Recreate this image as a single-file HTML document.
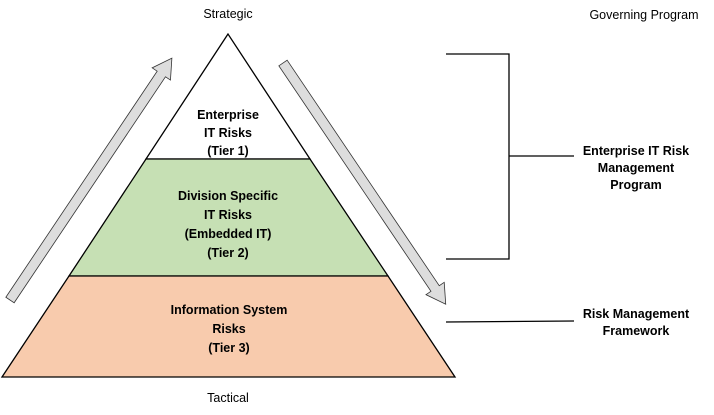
<!DOCTYPE html>
<html><head><style>body{margin:0;background:#fff}svg{display:block}text{font-family:"Liberation Sans",sans-serif;font-size:12.5px;fill:#000}</style></head><body>
<svg width="714" height="415" viewBox="0 0 714 415">
<polygon points="228,34 146,159 310,159" fill="#fff" stroke="#000" stroke-width="1.3"/>
<polygon points="146,159 310,159 388,276 69,276" fill="#c6e0b4" stroke="#000" stroke-width="1.3"/>
<polygon points="69,276 388,276 455,377 2,377" fill="#f8cbad" stroke="#000" stroke-width="1.3"/>
<g transform="translate(10,300) rotate(-56.2)">
<polygon points="0,-5 272,-5 272,-11 291,0 272,11 272,5 0,5" fill="#ddd" stroke="#333" stroke-width="0.8"/>
</g>
<g transform="translate(283,63) rotate(56)">
<polygon points="0,-5 272,-5 272,-11 291,0 272,11 272,5 0,5" fill="#ddd" stroke="#333" stroke-width="0.8"/>
</g>
<g stroke="#000" stroke-width="1.3" fill="none">
<polyline points="446,54 509,54 509,259 446,259"/>
<line x1="509" y1="156" x2="574" y2="156"/>
<line x1="446" y1="322" x2="574" y2="321"/>
</g>
<g text-anchor="middle">
<text x="228" y="18">Strategic</text>
<text x="228" y="402">Tactical</text>
<text x="644" y="19">Governing Program</text>
<g font-weight="bold">
<text x="228" y="119" font-weight="bold">Enterprise</text>
<text x="228" y="137" font-weight="bold">IT Risks</text>
<text x="228" y="155" font-weight="bold">(Tier 1)</text>
<text x="228" y="200" font-weight="bold">Division Specific</text>
<text x="228" y="219" font-weight="bold">IT Risks</text>
<text x="228" y="238" font-weight="bold">(Embedded IT)</text>
<text x="228" y="257" font-weight="bold">(Tier 2)</text>
<text x="229" y="314" font-weight="bold">Information System</text>
<text x="229" y="333" font-weight="bold">Risks</text>
<text x="229" y="352" font-weight="bold">(Tier 3)</text>
<text x="636" y="155" font-weight="bold">Enterprise IT Risk</text>
<text x="636" y="172" font-weight="bold">Management</text>
<text x="636" y="189" font-weight="bold">Program</text>
<text x="636" y="318" font-weight="bold">Risk Management</text>
<text x="636" y="335" font-weight="bold">Framework</text>
</g>
</g>
</svg>
</body></html>
